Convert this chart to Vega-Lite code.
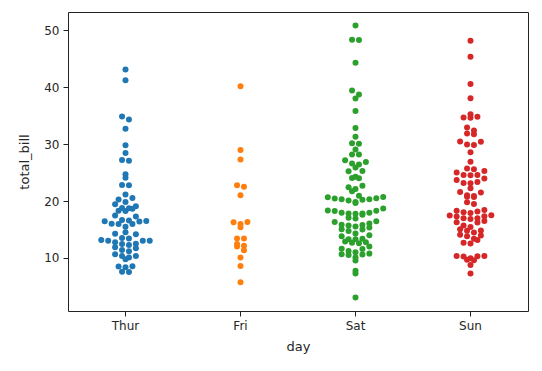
{
  "$schema": "https://vega.github.io/schema/vega-lite/v6.json",
  "autosize": {"type": "none"},
  "padding": {"left": 68, "top": 12, "right": 14, "bottom": 60},
  "width": 460,
  "height": 299,
  "config": {
    "font": "DejaVu Sans",
    "view": {"stroke": "#222", "strokeWidth": 1},
    "axis": {
      "grid": false,
      "domain": false,
      "tickColor": "#222",
      "tickSize": 5,
      "tickWidth": 1,
      "labelFont": "DejaVu Sans",
      "labelFontSize": 12,
      "labelColor": "#262626",
      "labelPadding": 4,
      "titleFont": "DejaVu Sans",
      "titleFontSize": 13,
      "titleFontWeight": "normal",
      "titleColor": "#262626"
    }
  },
  "data": {
    "values": [
      {"day":"Sun","total_bill":16.99},{"day":"Sun","total_bill":10.34},{"day":"Sun","total_bill":21.01},{"day":"Sun","total_bill":23.68},{"day":"Sun","total_bill":24.59},{"day":"Sun","total_bill":25.29},{"day":"Sun","total_bill":8.77},{"day":"Sun","total_bill":26.88},{"day":"Sun","total_bill":15.04},{"day":"Sun","total_bill":14.78},{"day":"Sun","total_bill":10.27},{"day":"Sun","total_bill":35.26},{"day":"Sun","total_bill":15.42},{"day":"Sun","total_bill":18.43},{"day":"Sun","total_bill":14.83},{"day":"Sun","total_bill":21.58},{"day":"Sun","total_bill":10.33},{"day":"Sun","total_bill":16.29},{"day":"Sun","total_bill":16.97},
      {"day":"Sat","total_bill":20.65},{"day":"Sat","total_bill":17.92},{"day":"Sat","total_bill":20.29},{"day":"Sat","total_bill":15.77},{"day":"Sat","total_bill":39.42},{"day":"Sat","total_bill":19.82},{"day":"Sat","total_bill":17.81},{"day":"Sat","total_bill":13.37},{"day":"Sat","total_bill":12.69},{"day":"Sat","total_bill":21.70},{"day":"Sat","total_bill":19.65},{"day":"Sat","total_bill":9.55},{"day":"Sat","total_bill":18.35},{"day":"Sat","total_bill":15.06},{"day":"Sat","total_bill":20.69},{"day":"Sat","total_bill":17.78},{"day":"Sat","total_bill":24.06},{"day":"Sat","total_bill":16.31},{"day":"Sat","total_bill":16.93},{"day":"Sat","total_bill":18.69},{"day":"Sat","total_bill":31.27},{"day":"Sat","total_bill":16.04},
      {"day":"Sun","total_bill":17.46},{"day":"Sun","total_bill":13.94},{"day":"Sun","total_bill":9.68},{"day":"Sun","total_bill":30.40},{"day":"Sun","total_bill":18.29},{"day":"Sun","total_bill":22.23},{"day":"Sun","total_bill":32.40},{"day":"Sun","total_bill":28.55},{"day":"Sun","total_bill":18.04},{"day":"Sun","total_bill":12.54},{"day":"Sun","total_bill":10.29},{"day":"Sun","total_bill":34.81},{"day":"Sun","total_bill":9.94},{"day":"Sun","total_bill":25.56},{"day":"Sun","total_bill":19.49},
      {"day":"Sat","total_bill":38.01},{"day":"Sat","total_bill":26.41},{"day":"Sat","total_bill":11.24},{"day":"Sat","total_bill":48.27},{"day":"Sat","total_bill":20.29},{"day":"Sat","total_bill":13.81},{"day":"Sat","total_bill":11.02},{"day":"Sat","total_bill":18.29},{"day":"Sat","total_bill":17.59},{"day":"Sat","total_bill":20.08},{"day":"Sat","total_bill":16.45},{"day":"Sat","total_bill":3.07},{"day":"Sat","total_bill":20.23},{"day":"Sat","total_bill":15.01},{"day":"Sat","total_bill":12.02},{"day":"Sat","total_bill":17.07},{"day":"Sat","total_bill":26.86},{"day":"Sat","total_bill":25.28},{"day":"Sat","total_bill":14.73},{"day":"Sat","total_bill":10.51},{"day":"Sat","total_bill":17.92},
      {"day":"Thur","total_bill":27.20},{"day":"Thur","total_bill":22.76},{"day":"Thur","total_bill":17.29},{"day":"Thur","total_bill":19.44},{"day":"Thur","total_bill":16.66},{"day":"Thur","total_bill":10.07},{"day":"Thur","total_bill":32.68},{"day":"Thur","total_bill":15.98},{"day":"Thur","total_bill":34.83},{"day":"Thur","total_bill":13.03},{"day":"Thur","total_bill":18.28},{"day":"Thur","total_bill":24.71},{"day":"Thur","total_bill":21.16},
      {"day":"Fri","total_bill":28.97},{"day":"Fri","total_bill":22.49},{"day":"Fri","total_bill":5.75},{"day":"Fri","total_bill":16.32},{"day":"Fri","total_bill":22.75},{"day":"Fri","total_bill":40.17},{"day":"Fri","total_bill":27.28},{"day":"Fri","total_bill":12.03},{"day":"Fri","total_bill":21.01},{"day":"Fri","total_bill":12.46},{"day":"Fri","total_bill":11.35},{"day":"Fri","total_bill":15.38},
      {"day":"Sat","total_bill":44.30},{"day":"Sat","total_bill":22.42},{"day":"Sat","total_bill":20.92},{"day":"Sat","total_bill":15.36},{"day":"Sat","total_bill":20.49},{"day":"Sat","total_bill":25.21},{"day":"Sat","total_bill":18.24},{"day":"Sat","total_bill":14.31},{"day":"Sat","total_bill":14.00},{"day":"Sat","total_bill":7.25},
      {"day":"Sun","total_bill":38.07},{"day":"Sun","total_bill":23.95},{"day":"Sun","total_bill":25.71},{"day":"Sun","total_bill":17.31},{"day":"Sun","total_bill":29.93},
      {"day":"Thur","total_bill":10.65},{"day":"Thur","total_bill":12.43},{"day":"Thur","total_bill":24.08},{"day":"Thur","total_bill":11.69},{"day":"Thur","total_bill":13.42},{"day":"Thur","total_bill":14.26},{"day":"Thur","total_bill":15.95},{"day":"Thur","total_bill":12.48},{"day":"Thur","total_bill":29.80},{"day":"Thur","total_bill":8.52},{"day":"Thur","total_bill":14.52},{"day":"Thur","total_bill":11.38},{"day":"Thur","total_bill":22.82},{"day":"Thur","total_bill":19.08},{"day":"Thur","total_bill":20.27},{"day":"Thur","total_bill":11.17},{"day":"Thur","total_bill":12.26},{"day":"Thur","total_bill":18.26},{"day":"Thur","total_bill":8.51},{"day":"Thur","total_bill":10.33},{"day":"Thur","total_bill":14.15},{"day":"Thur","total_bill":16.00},{"day":"Thur","total_bill":13.16},{"day":"Thur","total_bill":17.47},{"day":"Thur","total_bill":34.30},{"day":"Thur","total_bill":41.19},{"day":"Thur","total_bill":27.05},{"day":"Thur","total_bill":16.43},{"day":"Thur","total_bill":8.35},{"day":"Thur","total_bill":18.64},{"day":"Thur","total_bill":11.87},{"day":"Thur","total_bill":9.78},{"day":"Thur","total_bill":7.51},
      {"day":"Sun","total_bill":14.07},{"day":"Sun","total_bill":13.13},{"day":"Sun","total_bill":17.26},{"day":"Sun","total_bill":24.55},{"day":"Sun","total_bill":19.77},{"day":"Sun","total_bill":29.85},{"day":"Sun","total_bill":48.17},{"day":"Sun","total_bill":25.00},{"day":"Sun","total_bill":13.39},{"day":"Sun","total_bill":16.49},{"day":"Sun","total_bill":21.50},{"day":"Sun","total_bill":12.66},{"day":"Sun","total_bill":16.21},{"day":"Sun","total_bill":13.81},{"day":"Sun","total_bill":17.51},{"day":"Sun","total_bill":24.52},{"day":"Sun","total_bill":20.76},{"day":"Sun","total_bill":31.71},
      {"day":"Sat","total_bill":10.59},{"day":"Sat","total_bill":10.63},{"day":"Sat","total_bill":50.81},{"day":"Sat","total_bill":15.81},
      {"day":"Sun","total_bill":7.25},{"day":"Sun","total_bill":31.85},{"day":"Sun","total_bill":16.82},{"day":"Sun","total_bill":32.90},{"day":"Sun","total_bill":17.89},{"day":"Sun","total_bill":14.48},{"day":"Sun","total_bill":9.60},{"day":"Sun","total_bill":34.63},{"day":"Sun","total_bill":34.65},{"day":"Sun","total_bill":23.33},{"day":"Sun","total_bill":45.35},{"day":"Sun","total_bill":23.17},{"day":"Sun","total_bill":40.55},{"day":"Sun","total_bill":20.69},{"day":"Sun","total_bill":20.90},{"day":"Sun","total_bill":30.46},{"day":"Sun","total_bill":18.15},{"day":"Sun","total_bill":23.10},{"day":"Sun","total_bill":15.69},
      {"day":"Thur","total_bill":19.81},{"day":"Thur","total_bill":28.44},{"day":"Thur","total_bill":15.48},{"day":"Thur","total_bill":16.58},{"day":"Thur","total_bill":7.56},{"day":"Thur","total_bill":10.34},{"day":"Thur","total_bill":43.11},{"day":"Thur","total_bill":13.00},{"day":"Thur","total_bill":13.51},{"day":"Thur","total_bill":18.71},{"day":"Thur","total_bill":12.74},{"day":"Thur","total_bill":13.00},{"day":"Thur","total_bill":16.40},{"day":"Thur","total_bill":20.53},{"day":"Thur","total_bill":16.47},
      {"day":"Sat","total_bill":26.59},{"day":"Sat","total_bill":38.73},{"day":"Sat","total_bill":24.27},{"day":"Sat","total_bill":12.76},{"day":"Sat","total_bill":30.06},{"day":"Sat","total_bill":25.89},{"day":"Sat","total_bill":48.33},{"day":"Sat","total_bill":13.27},{"day":"Sat","total_bill":28.17},{"day":"Sat","total_bill":12.90},{"day":"Sat","total_bill":28.15},{"day":"Sat","total_bill":11.59},{"day":"Sat","total_bill":7.74},{"day":"Sat","total_bill":30.14},
      {"day":"Fri","total_bill":12.16},{"day":"Fri","total_bill":13.42},{"day":"Fri","total_bill":8.58},{"day":"Fri","total_bill":15.98},{"day":"Fri","total_bill":13.42},{"day":"Fri","total_bill":16.27},{"day":"Fri","total_bill":10.09},
      {"day":"Sat","total_bill":20.45},{"day":"Sat","total_bill":13.28},{"day":"Sat","total_bill":22.12},{"day":"Sat","total_bill":24.01},{"day":"Sat","total_bill":15.69},{"day":"Sat","total_bill":11.61},{"day":"Sat","total_bill":10.77},{"day":"Sat","total_bill":15.53},{"day":"Sat","total_bill":10.07},{"day":"Sat","total_bill":12.60},{"day":"Sat","total_bill":32.83},{"day":"Sat","total_bill":35.83},{"day":"Sat","total_bill":29.03},{"day":"Sat","total_bill":27.18},{"day":"Sat","total_bill":22.67},{"day":"Sat","total_bill":17.82},
      {"day":"Thur","total_bill":18.78}
    ]
  },
  "transform": [
    {"bin": {"step": 1.1, "anchor": 0}, "field": "total_bill", "as": "ybin"},
    {
      "window": [{"op": "row_number", "as": "i"}, {"op": "count", "as": "n"}],
      "groupby": ["day", "ybin"],
      "sort": [{"field": "total_bill"}],
      "frame": [null, null]
    },
    {"calculate": "((datum.i - 1) % 2 == 0 ? (datum.i - 1) / 2 : -datum.i / 2) + (datum.n % 2 == 0 ? 0.5 : 0)", "as": "off"}
  ],
  "mark": {"type": "circle", "size": 36, "opacity": 1},
  "encoding": {
    "x": {
      "field": "day",
      "type": "nominal",
      "sort": ["Thur", "Fri", "Sat", "Sun"],
      "scale": {"paddingInner": 0, "paddingOuter": 0},
      "axis": {"labelAngle": 0, "title": "day", "titlePadding": 9}
    },
    "xOffset": {
      "field": "off",
      "type": "quantitative",
      "scale": {"domain": [-8.3, 8.3]}
    },
    "y": {
      "field": "total_bill",
      "type": "quantitative",
      "scale": {"domain": [0.68, 53.2], "nice": false, "zero": false},
      "axis": {"values": [10, 20, 30, 40, 50], "title": "total_bill", "titlePadding": 12}
    },
    "color": {
      "field": "day",
      "type": "nominal",
      "scale": {"domain": ["Thur", "Fri", "Sat", "Sun"], "range": ["#1f77b4", "#ff7f0e", "#2ca02c", "#d62728"]},
      "legend": null
    }
  }
}
